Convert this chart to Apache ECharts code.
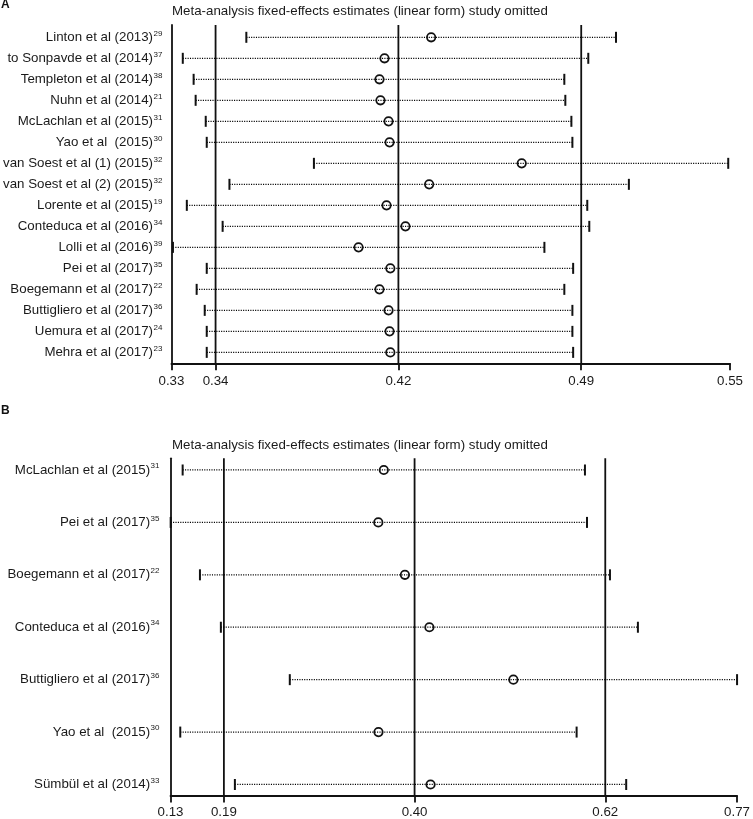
<!DOCTYPE html>
<html>
<head>
<meta charset="utf-8">
<script src="https://cdn.jsdelivr.net/npm/echarts@6/dist/echarts.min.js"></script>
<style>
html,body{margin:0;padding:0;background:#fff;}
#chart{width:753px;height:819px;}
</style>
</head>
<body>
<div id="chart"></div>
<script>
// ---------- Panel A data ----------
const studiesA = ['Linton et al (2013)', 'to Sonpavde et al (2014)', 'Templeton et al (2014)', 'Nuhn et al (2014)',
  'McLachlan et al (2015)', 'Yao et al  (2015)', 'van Soest et al (1) (2015)', 'van Soest et al (2) (2015)',
  'Lorente et al (2015)', 'Conteduca et al (2016)', 'Lolli et al (2016)', 'Pei et al (2017)',
  'Boegemann et al (2017)', 'Buttigliero et al (2017)', 'Uemura et al (2017)', 'Mehra et al (2017)'];
const refsA = ['29', '37', '38', '21', '31', '30', '32', '32', '19', '34', '39', '35', '22', '36', '24', '23'];
const estA  = [0.4295, 0.4110, 0.4090, 0.4094, 0.4126, 0.4130, 0.4654, 0.4287, 0.4118, 0.4193, 0.4007, 0.4133, 0.4090, 0.4126, 0.4130, 0.4133];
const lowA  = [0.3562, 0.3310, 0.3353, 0.3361, 0.3401, 0.3405, 0.3830, 0.3495, 0.3326, 0.3468, 0.3271, 0.3405, 0.3365, 0.3397, 0.3405, 0.3405];
const highA = [0.5028, 0.4918, 0.4823, 0.4827, 0.4851, 0.4855, 0.5473, 0.5079, 0.4914, 0.4922, 0.4744, 0.4858, 0.4823, 0.4855, 0.4855, 0.4858];
const tickValuesA = [0.3265, 0.344, 0.4165, 0.489, 0.548];
const tickLabelsA = ['0.33', '0.34', '0.42', '0.49', '0.55'];
const refLinesA = [0.344, 0.4165, 0.489];

// ---------- Panel B data ----------
const studiesB = ['McLachlan et al (2015)', 'Pei et al (2017)', 'Boegemann et al (2017)', 'Conteduca et al (2016)',
  'Buttigliero et al (2017)', 'Yao et al  (2015)', 'Sümbül et al (2014)'];
const refsB = ['31', '35', '22', '34', '36', '30', '33'];
const estB  = [0.3693, 0.3631, 0.3931, 0.4207, 0.5154, 0.3633, 0.4220];
const lowB  = [0.1425, 0.1290, 0.1620, 0.1856, 0.2633, 0.1398, 0.2014];
const highB = [0.5961, 0.5984, 0.6243, 0.6558, 0.7676, 0.5867, 0.6426];
const tickValuesB = [0.1288, 0.189, 0.404, 0.619, 0.7676];
const tickLabelsB = ['0.13', '0.19', '0.40', '0.62', '0.77'];
const refLinesB = [0.189, 0.404, 0.619];

const titleText = 'Meta-analysis fixed-effects estimates (linear form) study omitted';

const FONT = '"Liberation Sans", Arial, Helvetica, sans-serif';
const INK = '#111';
const TXT = '#1a1a1a';
const FS = 13.3;

function rows(low, est, high) {
  return est.map((e, i) => [low[i], e, high[i], i]);
}

function ciRender(params, api) {
  const r = api.value(3);
  const lo = api.coord([api.value(0), r]);
  const es = api.coord([api.value(1), r]);
  const hi = api.coord([api.value(2), r]);
  return {
    type: 'group',
    children: [
      { type: 'line', shape: { x1: lo[0], y1: lo[1], x2: hi[0], y2: hi[1] },
        style: { stroke: '#000', lineWidth: 1.25, lineDash: [1.1, 1.3] } },
      { type: 'line', shape: { x1: lo[0], y1: lo[1] - 5.5, x2: lo[0], y2: lo[1] + 5.5 },
        style: { stroke: INK, lineWidth: 2 } },
      { type: 'line', shape: { x1: hi[0], y1: hi[1] - 5.5, x2: hi[0], y2: hi[1] + 5.5 },
        style: { stroke: INK, lineWidth: 2 } },
      { type: 'circle', shape: { cx: es[0], cy: es[1], r: 4.2 },
        style: { fill: 'none', stroke: INK, lineWidth: 1.8 } }
    ]
  };
}

function refRender(params, api) {
  const cs = params.coordSys;
  const p = api.coord([api.value(0), 0]);
  return {
    type: 'line',
    shape: { x1: p[0], y1: cs.y, x2: p[0], y2: cs.y + cs.height },
    style: { stroke: INK, lineWidth: 1.8 }
  };
}

function xAxisCfg(gridIndex, tv, tl, margin) {
  return {
    type: 'value', gridIndex: gridIndex, position: 'bottom',
    min: tv[0], max: tv[tv.length - 1],
    splitLine: { show: false },
    axisLine: { show: true, onZero: false, lineStyle: { color: INK, width: 1.8 } },
    axisTick: { show: true, customValues: tv, length: 7, lineStyle: { color: INK, width: 1.8 } },
    axisLabel: {
      show: true, customValues: tv, margin: margin,
      color: TXT, fontSize: FS, fontFamily: FONT,
      formatter: function (v) {
        let best = 0, d = Infinity;
        tv.forEach((t, i) => { if (Math.abs(t - v) < d) { d = Math.abs(t - v); best = i; } });
        return tl[best];
      }
    }
  };
}

function yAxisCfg(gridIndex, names, refs, yMin, yMax, margin) {
  return {
    type: 'value', gridIndex: gridIndex, inverse: true, position: 'left',
    min: yMin, max: yMax,
    splitLine: { show: false },
    axisLine: { show: true, onZero: false, lineStyle: { color: INK, width: 1.8 } },
    axisTick: { show: false },
    axisLabel: {
      show: true, margin: margin,
      customValues: names.map((n, i) => i),
      formatter: function (v) {
        const i = Math.round(v);
        return '{n|' + names[i] + '}{s|' + refs[i] + '}';
      },
      rich: {
        n: { fontSize: FS, fontFamily: FONT, color: TXT, lineHeight: 16, verticalAlign: 'middle' },
        s: { fontSize: 8, fontFamily: FONT, color: TXT, lineHeight: 16, verticalAlign: 'top', padding: [0, 0, 0, 0.5] }
      }
    }
  };
}

const chart = echarts.init(document.getElementById('chart'), null, { renderer: 'canvas' });
chart.setOption({
  animation: false,
  backgroundColor: '#fff',
  grid: [
    { left: 169, top: 25, width: 561, height: 338.3, containLabel: false },
    { left: 170.5, top: 458.3, width: 567.5, height: 337.7, containLabel: false }
  ],
  xAxis: [
    xAxisCfg(0, tickValuesA, tickLabelsA, 12),
    xAxisCfg(1, tickValuesB, tickLabelsB, 10.5)
  ],
  yAxis: [
    yAxisCfg(0, studiesA, refsA, -0.586, 15.52, 9),
    yAxisCfg(1, studiesB, refsB, -0.223, 6.21, 11)
  ],
  graphic: [
    { type: 'text', x: 1, y: 5, style: { text: 'A', fontSize: 12, fontWeight: 'bold', fontFamily: FONT, fill: INK, verticalAlign: 'middle' } },
    { type: 'text', x: 1, y: 411, style: { text: 'B', fontSize: 12, fontWeight: 'bold', fontFamily: FONT, fill: INK, verticalAlign: 'middle' } },
    { type: 'text', x: 172, y: 11.7, style: { text: titleText, fontSize: FS, fontFamily: FONT, fill: TXT, verticalAlign: 'middle' } },
    { type: 'text', x: 172, y: 445, style: { text: titleText, fontSize: FS, fontFamily: FONT, fill: TXT, verticalAlign: 'middle' } }
  ],
  series: [
    { type: 'custom', xAxisIndex: 0, yAxisIndex: 0, renderItem: refRender, clip: false,
      data: refLinesA.map(v => [v]), encode: { x: 0 }, silent: true },
    { type: 'custom', xAxisIndex: 0, yAxisIndex: 0, renderItem: ciRender, clip: false,
      data: rows(lowA, estA, highA), encode: { x: [0, 1, 2], y: 3 }, silent: true },
    { type: 'custom', xAxisIndex: 1, yAxisIndex: 1, renderItem: refRender, clip: false,
      data: refLinesB.map(v => [v]), encode: { x: 0 }, silent: true },
    { type: 'custom', xAxisIndex: 1, yAxisIndex: 1, renderItem: ciRender, clip: false,
      data: rows(lowB, estB, highB), encode: { x: [0, 1, 2], y: 3 }, silent: true }
  ]
});
</script>
</body>
</html>
